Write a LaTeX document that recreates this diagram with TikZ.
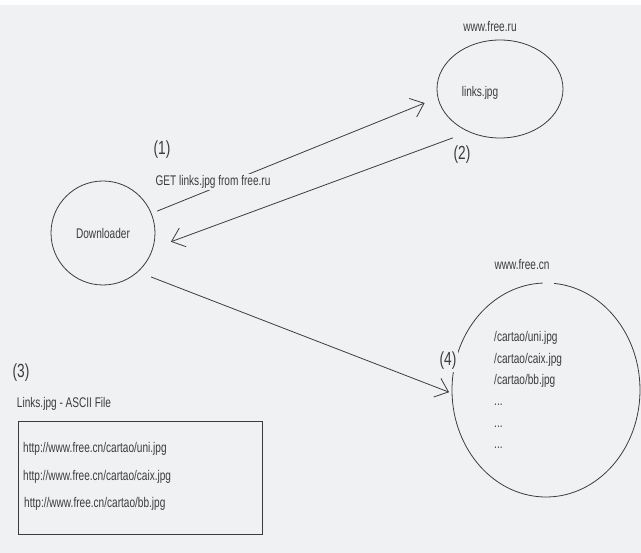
\documentclass[tikz,border=0pt]{standalone}
\usepackage{fontspec}
\setmainfont{Liberation Sans}[FakeStretch=0.72]
\usetikzlibrary{arrows.meta,shapes.geometric}
\definecolor{paper}{RGB}{240,241,243}
\definecolor{ink}{RGB}{60,60,60}

\begin{document}
\begin{tikzpicture}[x=1pt, y=-1pt,
                    every node/.style={inner sep=2pt, text=ink,
                      font=\fontsize{14pt}{16pt}\selectfont},
                    num/.style={font=\fontsize{19pt}{22pt}\selectfont},
                    ring/.style={ellipse, draw=ink, line width=0.8pt, inner sep=0pt},
                    link/.style={draw=ink, line width=0.8pt,
                      -{Straight Barb[length=12pt,width=20pt]}},
                    entry/.style={anchor=west}]
\path[fill=white, use as bounding box] (0,0) rectangle (641,553);
\fill[paper] (0,5) rectangle (641,553);

% downloader
\node[ring, minimum width=104pt, minimum height=104pt] (dl) at (103,233) {Downloader};

% free.ru
\node (ruhost) at (490,27) {www.free.ru};
\node[ring, minimum width=126pt, minimum height=98pt] (ru) at (500,89) {};
\node (rufile) at (480,93) {links.jpg};

% free.cn
\node (cnhost) at (522,265) {www.free.cn};
\node[ellipse, minimum width=188pt, minimum height=214pt, inner sep=0pt] (cn) at (546,390) {};
\draw[ink, line width=0.8pt] ([shift={(-85:94 and 107)}]cn.center)
  arc[start angle=-85, end angle=268, x radius=94, y radius=107];
\node[entry] (c1) at (492,338) {/cartao/uni.jpg};
\node[entry] (c2) at (492,360) {/cartao/caix.jpg};
\node[entry] (c3) at (492,381) {/cartao/bb.jpg};
\node[entry] (c4) at (492,405) {...};
\node[entry] (c5) at (492,427) {...};
\node[entry] (c6) at (492,448) {...};

% requests
\draw[link, shorten <=6pt, shorten >=14pt] (dl.22) -- (ru.188);
\node[fill=paper, inner sep=1pt] (get) at (213,182) {GET links.jpg from free.ru};
\draw[link, shorten <=17pt, shorten >=19pt] (ru.234) -- (dl.343);
\draw[link, shorten <=14pt, shorten >=3pt] (dl.312) -- (cn.182);

\node[num] (n1) at (162,150) {(1)};
\node[num] (n2) at (462,155) {(2)};
\node[num] (n3) at (21,373) {(3)};
\node[num, fill=paper, inner xsep=2pt] (n4) at (448,361) {(4)};

% ascii file
\node (ascii) at (64,404) {Links.jpg - ASCII File};
\node[draw=ink, line width=0.8pt, minimum width=244pt, minimum height=113pt,
      inner sep=0pt] (box) at (140,477.5) {};
\node[entry] (u1) at (21,449) {http://www.free.cn/cartao/uni.jpg};
\node[entry] (u2) at (21,477) {http://www.free.cn/cartao/caix.jpg};
\node[entry] (u3) at (22,504) {http://www.free.cn/cartao/bb.jpg};
\end{tikzpicture}
\end{document}
